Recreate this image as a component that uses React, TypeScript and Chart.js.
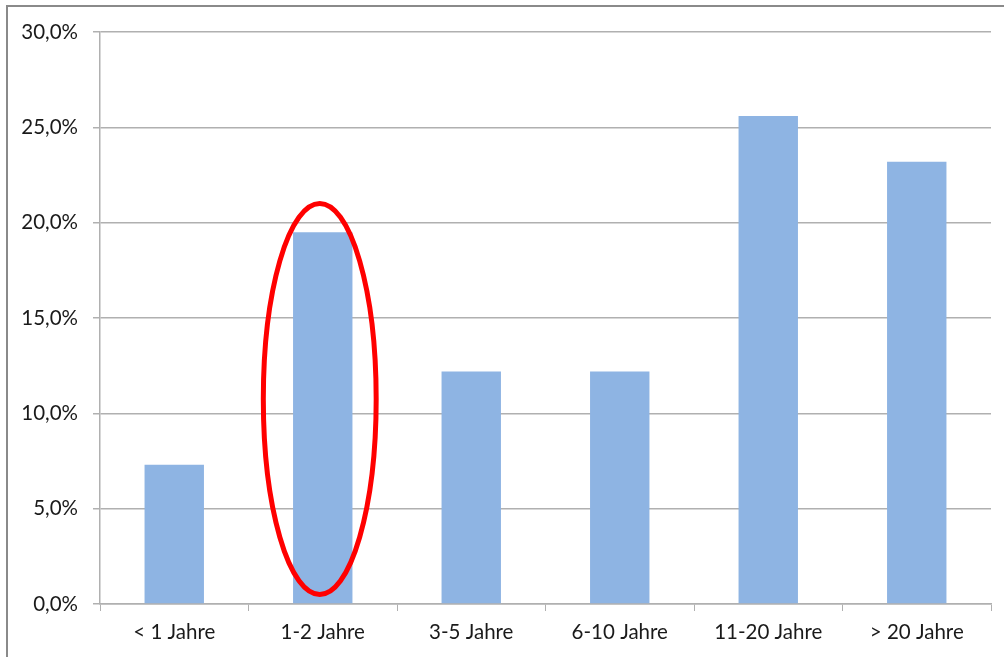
import React, { useEffect, useRef } from "react";
import { Chart, registerables } from "chart.js";

Chart.register(...registerables);

const categories = ["< 1 Jahre", "1-2 Jahre", "3-5 Jahre", "6-10 Jahre", "11-20 Jahre", "> 20 Jahre"];
const shares = [7.3, 19.5, 12.2, 12.2, 25.6, 23.2];
const yTicks = [0, 5, 10, 15, 20, 25, 30];

// Highlight ring around the second category (value range in %)
const highlightIndex = 1;
const highlightRange = [0.5, 21.0];
const highlightHalfWidth = 0.38; // fraction of a category slot

const FONT = "Lato, 'Open Sans', sans-serif";

const highlightPlugin = {
  id: "highlightRing",
  afterDatasetsDraw(chart: any) {
    const { ctx, scales } = chart;
    const x = scales.x;
    const y = scales.y;
    const cx = x.getPixelForValue(highlightIndex) - 3;
    const slot = x.getPixelForValue(1) - x.getPixelForValue(0);
    const rx = slot * highlightHalfWidth;
    const top = y.getPixelForValue(highlightRange[1]);
    const bottom = y.getPixelForValue(highlightRange[0]);
    ctx.save();
    ctx.beginPath();
    ctx.ellipse(cx, (top + bottom) / 2, rx, (bottom - top) / 2, 0, 0, Math.PI * 2);
    ctx.strokeStyle = "#ff0000";
    ctx.lineWidth = 5;
    ctx.stroke();
    ctx.restore();
  },
};

export default function App() {
  const ref = useRef<HTMLCanvasElement>(null);

  useEffect(() => {
    if (!ref.current) return;
    const chart = new Chart(ref.current, {
      type: "bar",
      data: {
        labels: categories,
        datasets: [
          {
            data: shares,
            backgroundColor: "#8eb4e3",
            categoryPercentage: 1,
            barPercentage: 0.4,
          },
        ],
      },
      options: {
        animation: false,
        responsive: false,
        layout: { padding: { top: 32, right: 13, bottom: 0, left: 0 } },
        plugins: { legend: { display: false }, tooltip: { enabled: false } },
        scales: {
          x: {
            grid: {
              display: true,
              drawOnChartArea: false,
              drawTicks: true,
              tickLength: 7,
              color: "#b0b0b0",
              offset: true,
            },
            border: { color: "#b0b0b0", width: 1.5 },
            ticks: {
              color: "#1a1a1a",
              font: { family: FONT, size: 20.5 },
              padding: 9,
            },
            afterFit(scale: any) {
              scale.height = 53;
            },
          },
          y: {
            min: 0,
            max: 30,
            afterBuildTicks(scale: any) {
              scale.ticks = yTicks.map((v) => ({ value: v }));
            },
            grid: {
              color: "#b0b0b0",
              lineWidth: 1.5,
              tickLength: 7,
            },
            border: { color: "#b0b0b0", width: 1.5 },
            ticks: {
              color: "#1a1a1a",
              font: { family: FONT, size: 20.5 },
              padding: 15,
              callback: (v: any) => Number(v).toFixed(1).replace(".", ",") + "%",
            },
            afterFit(scale: any) {
              scale.width = 100;
            },
          },
        },
      },
      plugins: [highlightPlugin],
    });
    return () => chart.destroy();
  }, []);

  return (
    <div style={{ position: "fixed", left: 0, top: 0, width: 1004, height: 657, background: "#fff", overflow: "hidden" }}>
      <div
        style={{
          position: "absolute",
          left: 6,
          top: 5,
          width: 1010,
          height: 660,
          borderLeft: "2px solid #8a8a8a",
          borderTop: "2px solid #8a8a8a",
        }}
      />
      <canvas ref={ref} width={1004} height={657} style={{ position: "absolute", left: 0, top: 0 }} />
    </div>
  );
}
